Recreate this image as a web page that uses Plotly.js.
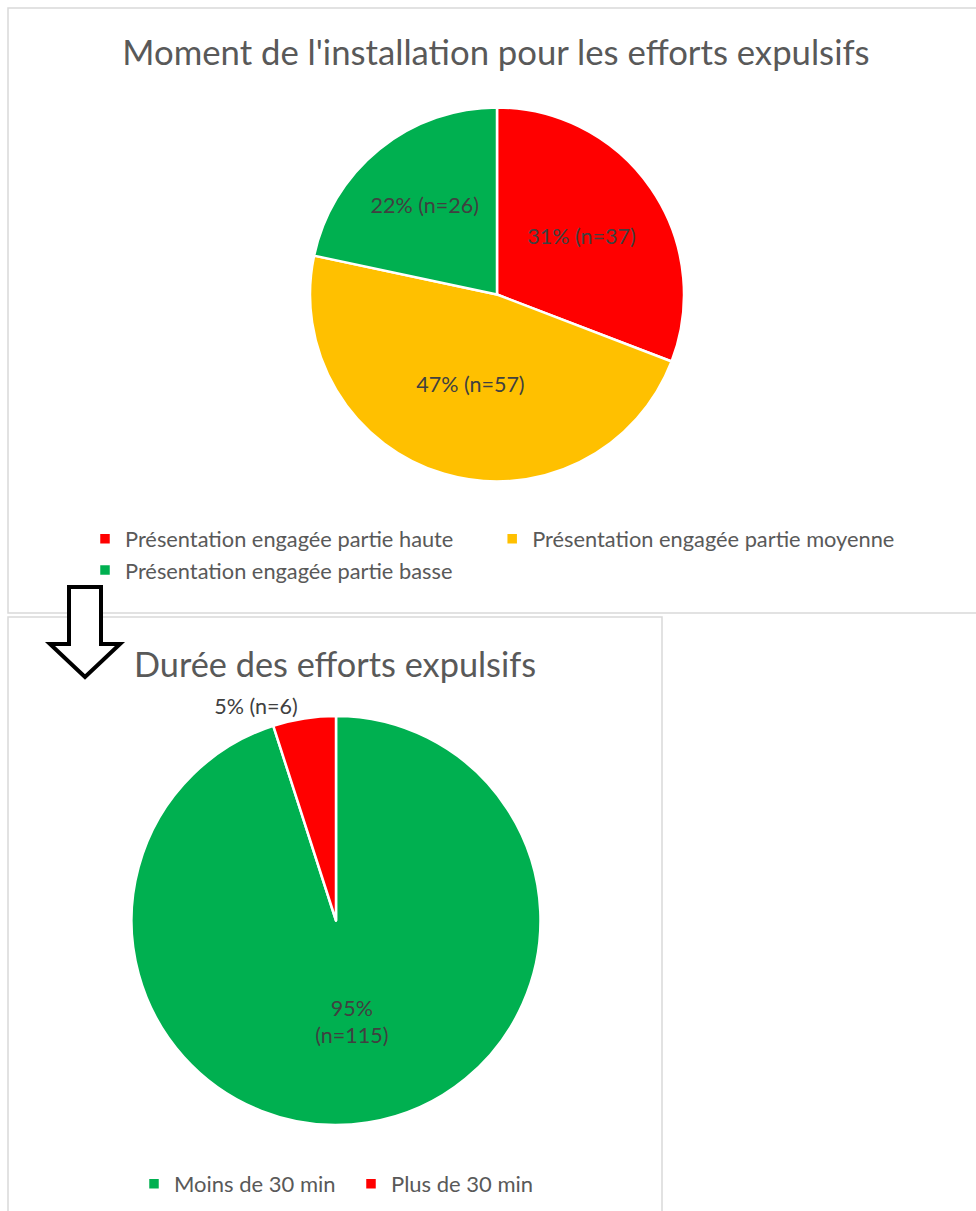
<!DOCTYPE html>
<html>
<head>
<meta charset="utf-8">
<script src="https://cdn.plot.ly/plotly-3.0.1.min.js"></script>
<style>
  html, body { margin: 0; padding: 0; background: #ffffff; }
  #chart { width: 976px; height: 1211px; }
</style>
</head>
<body>
<div id="chart"></div>
<script>
// ---- Data: top chart ----
const topTitle = "Moment de l'installation pour les efforts expulsifs";
const topCategories = [
  "Présentation engagée partie haute",
  "Présentation engagée partie moyenne",
  "Présentation engagée partie basse"
];
const topCounts = [37, 57, 26];
const topPercents = [31, 47, 22];
const topColors = ["#FF0000", "#FFC000", "#00B050"];

// ---- Data: bottom chart ----
const bottomTitle = "Durée des efforts expulsifs";
const bottomCategories = ["Moins de 30 min", "Plus de 30 min"];
const bottomCounts = [115, 6];
const bottomPercents = [95, 5];
const bottomColors = ["#00B050", "#FF0000"];

const W = 976, H = 1211;
const FONT = "Lato, 'Open Sans', sans-serif";
const px = x => x / W;
const py = y => 1 - y / H;

const topText = topCounts.map((n, i) => topPercents[i] + "% (n=" + n + ")");
const bottomText = bottomCounts.map((n, i) =>
  i === 0 ? bottomPercents[i] + "%<br>(n=" + n + ")" : bottomPercents[i] + "% (n=" + n + ")");

const traces = [
  {
    type: "pie",
    labels: topCategories,
    values: topCounts,
    text: topText,
    textinfo: "text",
    hoverinfo: "label+value",
    sort: false,
    direction: "clockwise",
    rotation: 0,
    marker: { colors: topColors, line: { color: "#FFFFFF", width: 2.5 } },
    textposition: "inside",
    insidetextorientation: "horizontal",
    insidetextfont: { family: FONT, size: 21.5, color: "#404040" },
    domain: { x: [px(310), px(684)], y: [py(482), py(107)] },
    legend: "legend",
    showlegend: true
  },
  {
    type: "pie",
    labels: bottomCategories,
    values: bottomCounts,
    text: bottomText,
    textinfo: "text",
    hoverinfo: "label+value",
    sort: false,
    direction: "clockwise",
    rotation: 0,
    marker: { colors: bottomColors, line: { color: "#FFFFFF", width: 2.5 } },
    textposition: ["inside", "outside"],
    insidetextorientation: "horizontal",
    insidetextfont: { family: FONT, size: 21.5, color: "#404040" },
    outsidetextfont: { family: FONT, size: 21.5, color: "#404040" },
    domain: { x: [px(131), px(541)], y: [py(1125), py(716)] },
    legend: "legend2",
    showlegend: true
  }
];

const borderColor = "#D9D9D9";
const arrowPts = [[69,587],[101,587],[101,644],[120,644],[85,677],[50,644],[69,644]];
const arrowPath = "M" + arrowPts.map(p => px(p[0]) + "," + py(p[1])).join(" L") + " Z";

const layout = {
  width: W,
  height: H,
  margin: { l: 0, r: 0, t: 0, b: 0 },
  paper_bgcolor: "#FFFFFF",
  plot_bgcolor: "#FFFFFF",
  font: { family: FONT, color: "#595959" },
  title: {
    text: topTitle,
    x: px(496), y: py(53), xref: "paper", yref: "paper",
    xanchor: "center", yanchor: "middle",
    font: { family: FONT, size: 34.7, color: "#595959" }
  },
  annotations: [
    {
      text: bottomTitle,
      x: px(335), y: py(663), xref: "paper", yref: "paper",
      xanchor: "center", yanchor: "middle", showarrow: false,
      font: { family: FONT, size: 34.3, color: "#595959" }
    }
  ],
  legend: {
    orientation: "h",
    x: px(85), y: py(518), xanchor: "left", yanchor: "top",
    font: { family: FONT, size: 21.8, color: "#595959" },
    bgcolor: "rgba(0,0,0,0)"
  },
  legend2: {
    orientation: "h",
    x: px(134), y: py(1163), xanchor: "left", yanchor: "top",
    entrywidth: 172, entrywidthmode: "pixels",
    font: { family: FONT, size: 22, color: "#595959" },
    bgcolor: "rgba(0,0,0,0)"
  },
  shapes: [
    { type: "rect", xref: "paper", yref: "paper",
      x0: px(8), x1: px(990), y0: py(613), y1: py(8),
      line: { color: borderColor, width: 1.5 }, fillcolor: "rgba(0,0,0,0)" },
    { type: "rect", xref: "paper", yref: "paper",
      x0: px(8), x1: px(662), y0: py(1225), y1: py(617),
      line: { color: borderColor, width: 1.5 }, fillcolor: "rgba(0,0,0,0)" },
    { type: "path", xref: "paper", yref: "paper", path: arrowPath,
      line: { color: "#000000", width: 4 }, fillcolor: "#FFFFFF" }
  ]
};

Plotly.newPlot("chart", traces, layout, { displayModeBar: false, staticPlot: true });
</script>
</body>
</html>
